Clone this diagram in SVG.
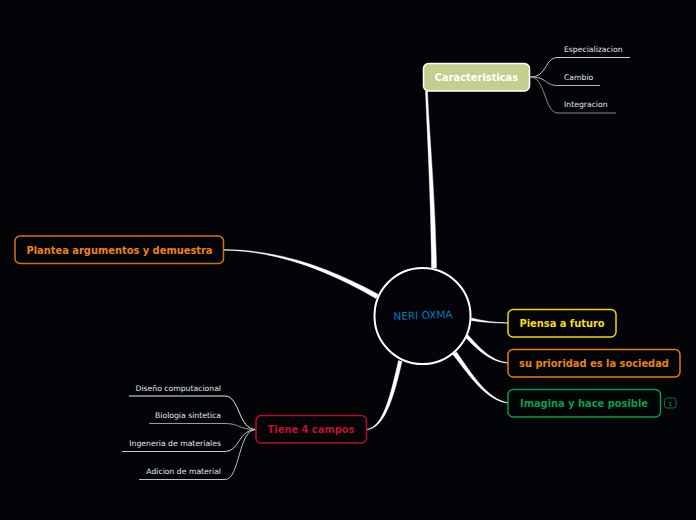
<svg xmlns="http://www.w3.org/2000/svg" width="696" height="520" viewBox="0 0 696 520">
<style>
.n{fill:#020408;stroke-width:1.5}
.t{font:bold 9.9px "DejaVu Sans",sans-serif;text-anchor:middle}
.s{font:7.7px "DejaVu Sans",sans-serif;fill:#e6e6e6}
.e{text-anchor:end}
.w{fill:#fff;stroke:#fff;stroke-width:.4}
.l{fill:none;stroke-width:1}
</style>
<rect width="696" height="520" fill="#020408"/>
<g id="connectors">
<path class="w" d="M425.5 91C427 130 431 200 431.5 268L436.5 268C435.5 200 429 130 427.5 91Z"/>
<path class="w" d="M224 250.2C280 251 330 272 376 298.5L378.5 294.5C330 268 280 250 224 249.6Z"/>
<path class="w" d="M508 323.2C495 323 483 322.5 471 320.5L471.500 318C483 321 495 322.500 508 322.800Z"/>
<path class="w" d="M508 363.300C490 362 478 350 465 337L467.500 334.500C480 348 491 361 508 362.700Z"/>
<path class="w" d="M508 403.300C485 400 470 376 452.500 354L456.500 352C472 374 487 399 508 402.700Z"/>
<path class="w" d="M367 429.300C384 427 391 392 398.500 360.500L402 361.500C395 392 386 428 367 429.800Z"/>
<g class="l">
<path stroke="#d0d0d0" d="M530 77C548 77 544 57.500 558 57.500H630"/>
<path stroke="#b5b5b5" d="M530 77C548 77 544 85.500 558 85.500H600"/>
<path stroke="#8a8a8a" d="M530 77C546 77 544 113 558 113H616"/>
<path stroke="#e8e8e8" d="M256 429.500C238 429.500 240 396 225 396H129"/>
<path stroke="#9a9a9a" d="M256 429.500C238 429.500 240 423.500 225 423.500H149"/>
<path stroke="#c8c8c8" d="M256 429.500C238 429.500 240 451.500 225 451.500H122"/>
<path stroke="#c0c0c0" d="M256 429.500C238 429.500 240 479.500 225 479.500H139"/>
</g>
</g>
<g id="center">
<circle cx="422.500" cy="316" r="48" fill="#020408" stroke="#fff" stroke-width="2"/>
<text transform="rotate(-2 423 315)" x="423" y="319" text-anchor="middle" font-family="'DejaVu Sans',sans-serif" font-size="10.500" fill="#0a78b8">NERI OXMA</text>
</g>
<g id="caracteristicas">
<rect x="423.500" y="63.500" width="106" height="27.500" rx="5" fill="#c3cf8d" stroke="#fff" stroke-width="1.500"/>
<text class="t" x="476.500" y="81" fill="#fff">Caracteristicas</text>
</g>
<g id="especializacion"><text class="s" x="564" y="52">Especializacion</text></g>
<g id="cambio"><text class="s" x="564" y="80">Cambio</text></g>
<g id="integracion"><text class="s" x="564" y="107">Integracion</text></g>
<g id="plantea">
<rect class="n" x="15" y="236" width="208.500" height="27.500" rx="5" stroke="#d4740f"/>
<text class="t" x="119.500" y="254" fill="#ee8112">Plantea argumentos y demuestra</text>
</g>
<g id="futuro">
<rect class="n" x="508" y="309.500" width="108" height="27.500" rx="5" stroke="#f2d40f"/>
<text class="t" x="562" y="327" fill="#f5dc10">Piensa a futuro</text>
</g>
<g id="sociedad">
<rect class="n" x="508" y="349.500" width="172" height="27.500" rx="5" stroke="#e07d12"/>
<text class="t" x="594" y="367" fill="#e8830f">su prioridad es la sociedad</text>
</g>
<g id="imagina">
<rect class="n" x="508" y="389.500" width="152.500" height="27.500" rx="5" stroke="#079a4c"/>
<text class="t" x="584" y="407" fill="#079e4e">Imagina y hace posible</text>
</g>
<g id="badge">
<rect x="664.500" y="398" width="11.500" height="10" rx="2.500" fill="#020408" stroke="#067a3c"/>
<text x="670.200" y="405.500" text-anchor="middle" font-family="'DejaVu Sans',sans-serif" font-size="6" fill="#0a9a50">1</text>
</g>
<g id="campos">
<rect class="n" x="256" y="415.500" width="110.500" height="27.500" rx="5" stroke="#b80f2c"/>
<text class="t" x="311" y="433" fill="#c2102f">Tiene 4 campos</text>
</g>
<g id="diseno"><text class="s e" x="221" y="391">Diseño computacional</text></g>
<g id="biologia"><text class="s e" x="221" y="418">Biologia sintetica</text></g>
<g id="ingenieria"><text class="s e" x="221" y="446">Ingeneria de materiales</text></g>
<g id="adicion"><text class="s e" x="221" y="474">Adicion de material</text></g>
</svg>
